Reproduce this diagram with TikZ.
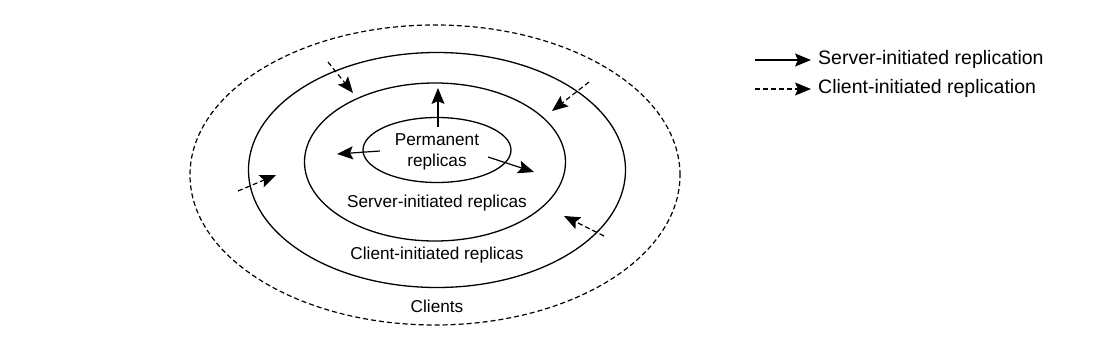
\documentclass[tikz,border=0pt]{standalone}
\usepackage{fontspec}
\setmainfont{Liberation Sans}
\usetikzlibrary{shapes.geometric,arrows.meta}
\begin{document}
\begin{tikzpicture}[x=1pt,y=-1pt,
  ring/.style={draw, ellipse, line width=1.3pt, inner sep=0pt, outer sep=0pt},
  dring/.style={ring, line width=1.2pt, dash pattern=on 5pt off 3pt},
  lbl/.style={font=\fontsize{17.2}{21.5}\selectfont, inner sep=0pt},
  leglbl/.style={font=\fontsize{19.5}{21}\selectfont, inner sep=0pt},
  sarrow/.style={line width=1.2pt, -{Stealth[length=16pt,width=13pt,inset=3pt]}},
  carrow/.style={sarrow, dash pattern=on 5pt off 3pt}]
\useasboundingbox (0,0) rectangle (1114,356);
\fill[white] (0,0) rectangle (1114,356);
% rings
\node[dring, minimum width=490pt, minimum height=300pt] (clients) at (435,175) {};
\node[ring, minimum width=377pt, minimum height=235pt] (cir) at (437,170) {};
\node[ring, minimum width=261pt, minimum height=158pt] (sir) at (435,162) {};
\node[ring, minimum width=148pt, minimum height=65pt] (perm) at (437,150) {};
% labels
\node[lbl, align=center] (permlbl) at (437,152) {Permanent\\replicas};
\node[lbl] (sirlbl) at (437,203) {Server-initiated replicas};
\node[lbl] (cirlbl) at (437,255) {Client-initiated replicas};
\node[lbl] (clientslbl) at (437,306) {Clients};
% server-initiated arrows
\coordinate (u0) at (438,127); \coordinate (u1) at (438,88);
\coordinate (l0) at (380,151); \coordinate (l1) at (337,154);
\coordinate (r0) at (488,157); \coordinate (r1) at (534,172);
\draw[sarrow] (u0) -- (u1);
\draw[sarrow] (l0) -- (l1);
\draw[sarrow] (r0) -- (r1);
% client-initiated arrows
\coordinate (a0) at (328,62); \coordinate (a1) at (353,93);
\coordinate (b0) at (589,82); \coordinate (b1) at (552,111);
\coordinate (c0) at (238,191); \coordinate (c1) at (276,175);
\coordinate (d0) at (604,236); \coordinate (d1) at (564,216);
\draw[carrow] (a0) -- (a1);
\draw[carrow] (b0) -- (b1);
\draw[carrow] (c0) -- (c1);
\draw[carrow] (d0) -- (d1);
% legend
\coordinate (ls0) at (755,60); \coordinate (ls1) at (811,60);
\coordinate (lc0) at (755,89); \coordinate (lc1) at (811,89);
\draw[sarrow] (ls0) -- (ls1);
\draw[carrow] (lc0) -- (lc1);
\node[leglbl, anchor=west] (lstext) at (818,59) {Server-initiated replication};
\node[leglbl, anchor=west] (lctext) at (818,88) {Client-initiated replication};
\end{tikzpicture}
\end{document}
